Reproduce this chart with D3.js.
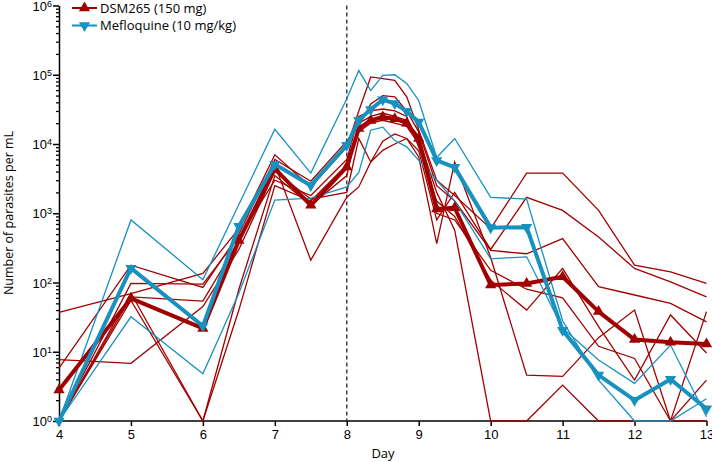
<!DOCTYPE html>
<html><head><meta charset="utf-8">
<script src="https://cdn.jsdelivr.net/npm/d3@7"></script>
<style>body{margin:0;background:#fff}svg{display:block;font-family:"Open Sans",sans-serif}</style>
</head><body><svg id="c" width="712" height="462"></svg>
<script>
const days = [4,5,6,6.5,7,7.5,8,8.167,8.333,8.5,8.667,8.833,9,9.25,9.5,10,10.5,11,11.5,12,12.5,13];
const dsmMean = [2.8,59,21.7,405,4400,1300,4660,16700,21900,24500,23200,20000,12000,1150,1200,92,97,121,38,15,13.7,12.9];
const mefMean = [1,161,23.5,650,5100,2520,9600,22000,31600,43600,38500,29600,20800,5800,4600,620,630,20.5,4.6,2.0,4.0,1.5];
const dsmSubjects = [
  [37,69,135,600,7000,2400,9000,30000,93000,88000,83000,48000,16000,3000,1800,600,3800,3800,1100,178,142,97],
  [7.7,6.8,45,300,4000,1600,2000,12000,5500,11000,14000,12000,8000,800,2000,300,1700,1100,455,160,102,62],
  [5.8,178,85,500,6000,2900,11000,18000,38000,50000,48000,30000,15000,2500,1500,290,260,430,87,66,50,27],
  [1,97,95,450,3000,1800,6000,25000,30000,32000,30000,25000,9000,1500,900,108,40,160,23,3.9,34,9.6],
  [1,62,54,400,5000,210,1700,2400,5500,8100,10000,12000,6500,365,5500,230,4.6,4.4,16,40,1,3.9],
  [1,70,1,80,3500,1300,3500,20000,25000,28000,25000,22000,12000,2000,570,1,1,3.3,1,1,1,1],
  [1,55,1,40,2500,1500,5000,15000,20000,22000,20000,18000,10000,1000,800,150,80,60,12,8,1,38]
];
const mefSubjects = [
  [1,800,110,1340,16300,3800,45000,115000,59000,98000,100000,75000,42500,6400,12000,1700,1600,28,3.9,1,1,2.1],
  [1,32,4.8,70,1550,1650,2400,3900,15800,17500,11200,9100,5800,3000,1500,220,235,22,7.6,3.5,12.5,1.15]
];
const xTicks = [4,5,6,7,8,9,10,11,12,13];
const yTicks = [1,10,100,1000,10000,100000,1000000];
const legendLabels = ["DSM265 (150 mg)","Mefloquine (10 mg/kg)"];
const RED = "#a00000", BLUE = "#1791bf";

const svg = d3.select("#c");
const x = d3.scaleLinear().domain([4,13]).range([59,706.5]);
const y = d3.scaleLog().domain([1,1e6]).range([421,5.5]);
const line = d3.line().x((d,i)=>x(days[i])).y(d=>y(Math.max(1,d)));

// y axis
const minor = [];
for (let e=0;e<6;e++) for (let m=2;m<10;m++) minor.push(m*Math.pow(10,e));
svg.append("g").attr("transform","translate(59,0)")
  .call(d3.axisLeft(y).tickValues(minor).tickSize(3).tickFormat(""))
  .call(g=>g.select(".domain").remove())
  .call(g=>g.selectAll("line").attr("stroke","#000").attr("stroke-width",1.3));
const ya = svg.append("g").attr("transform","translate(59,0)")
  .call(d3.axisLeft(y).tickValues(yTicks).tickSize(6).tickSizeOuter(0).tickFormat(""));
ya.select(".domain").attr("stroke","#000").attr("stroke-width",1.5);
ya.selectAll("line").attr("stroke","#000").attr("stroke-width",1.5);
ya.selectAll(".tick").append("text")
  .attr("x",-7).attr("dy","0.35em").attr("text-anchor","end").attr("fill","#000")
  .style("font-size","13px")
  .each(function(d){
    const t=d3.select(this);
    t.append("tspan").text("10");
    t.append("tspan").attr("dy","-0.45em").style("font-size","9px").text(String(Math.round(Math.log10(d))));
  });

// x axis
const xa = svg.append("g").attr("transform","translate(0,421)")
  .call(d3.axisBottom(x).tickValues(xTicks).tickSize(5).tickSizeOuter(0).tickFormat(d3.format("d")));
xa.select(".domain").attr("stroke","#000").attr("stroke-width",1.5).attr("d","M57,0H707");
xa.selectAll("line").attr("stroke","#000").attr("stroke-width",1.5);
xa.selectAll("text").attr("fill","#000").style("font-size","13px").attr("y",9);

svg.append("text").attr("x",383).attr("y",458).attr("text-anchor","middle").style("font-size","13px").text("Day");
svg.append("text").attr("transform","translate(13,213) rotate(-90)").attr("text-anchor","middle").style("font-size","12.5px").text("Number of parasites per mL");

// dashed day 8
svg.append("line").attr("x1",x(8)).attr("x2",x(8)).attr("y1",y(1e6)).attr("y2",y(1))
  .attr("stroke","#333").attr("stroke-width",1.4).attr("stroke-dasharray","4,3");

// thin lines
dsmSubjects.forEach(s=>svg.append("path").attr("d",line(s)).attr("fill","none").attr("stroke",RED).attr("stroke-width",1.3));
mefSubjects.forEach(s=>svg.append("path").attr("d",line(s)).attr("fill","none").attr("stroke",BLUE).attr("stroke-width",1.3));

// thick
const tri = d3.symbol().type(d3.symbolTriangle).size(55);
svg.append("path").attr("d",line(dsmMean)).attr("fill","none").attr("stroke",RED).attr("stroke-width",4).attr("stroke-linejoin","round");
svg.append("g").selectAll("path").data(dsmMean).join("path")
  .attr("d",tri).attr("fill",RED)
  .attr("transform",(d,i)=>`translate(${x(days[i])},${y(Math.max(1,d))})`);
svg.append("path").attr("d",line(mefMean)).attr("fill","none").attr("stroke",BLUE).attr("stroke-width",4).attr("stroke-linejoin","round");
svg.append("g").selectAll("path").data(mefMean).join("path")
  .attr("d",tri).attr("fill",BLUE)
  .attr("transform",(d,i)=>`translate(${x(days[i])},${y(Math.max(1,d))}) rotate(180)`);

// legend
const leg = svg.append("g");
[[RED,0],[BLUE,180]].forEach(([c,r],i)=>{
  const yy = 8 + i*17.5;
  leg.append("line").attr("x1",72).attr("x2",97).attr("y1",yy).attr("y2",yy).attr("stroke",c).attr("stroke-width",2);
  leg.append("path").attr("d",tri).attr("fill",c).attr("transform",`translate(84.5,${yy}) rotate(${r})`);
  leg.append("text").attr("x",100).attr("y",yy).attr("dy","0.35em").style("font-size","13px").text(legendLabels[i]);
});
</script></body></html>
